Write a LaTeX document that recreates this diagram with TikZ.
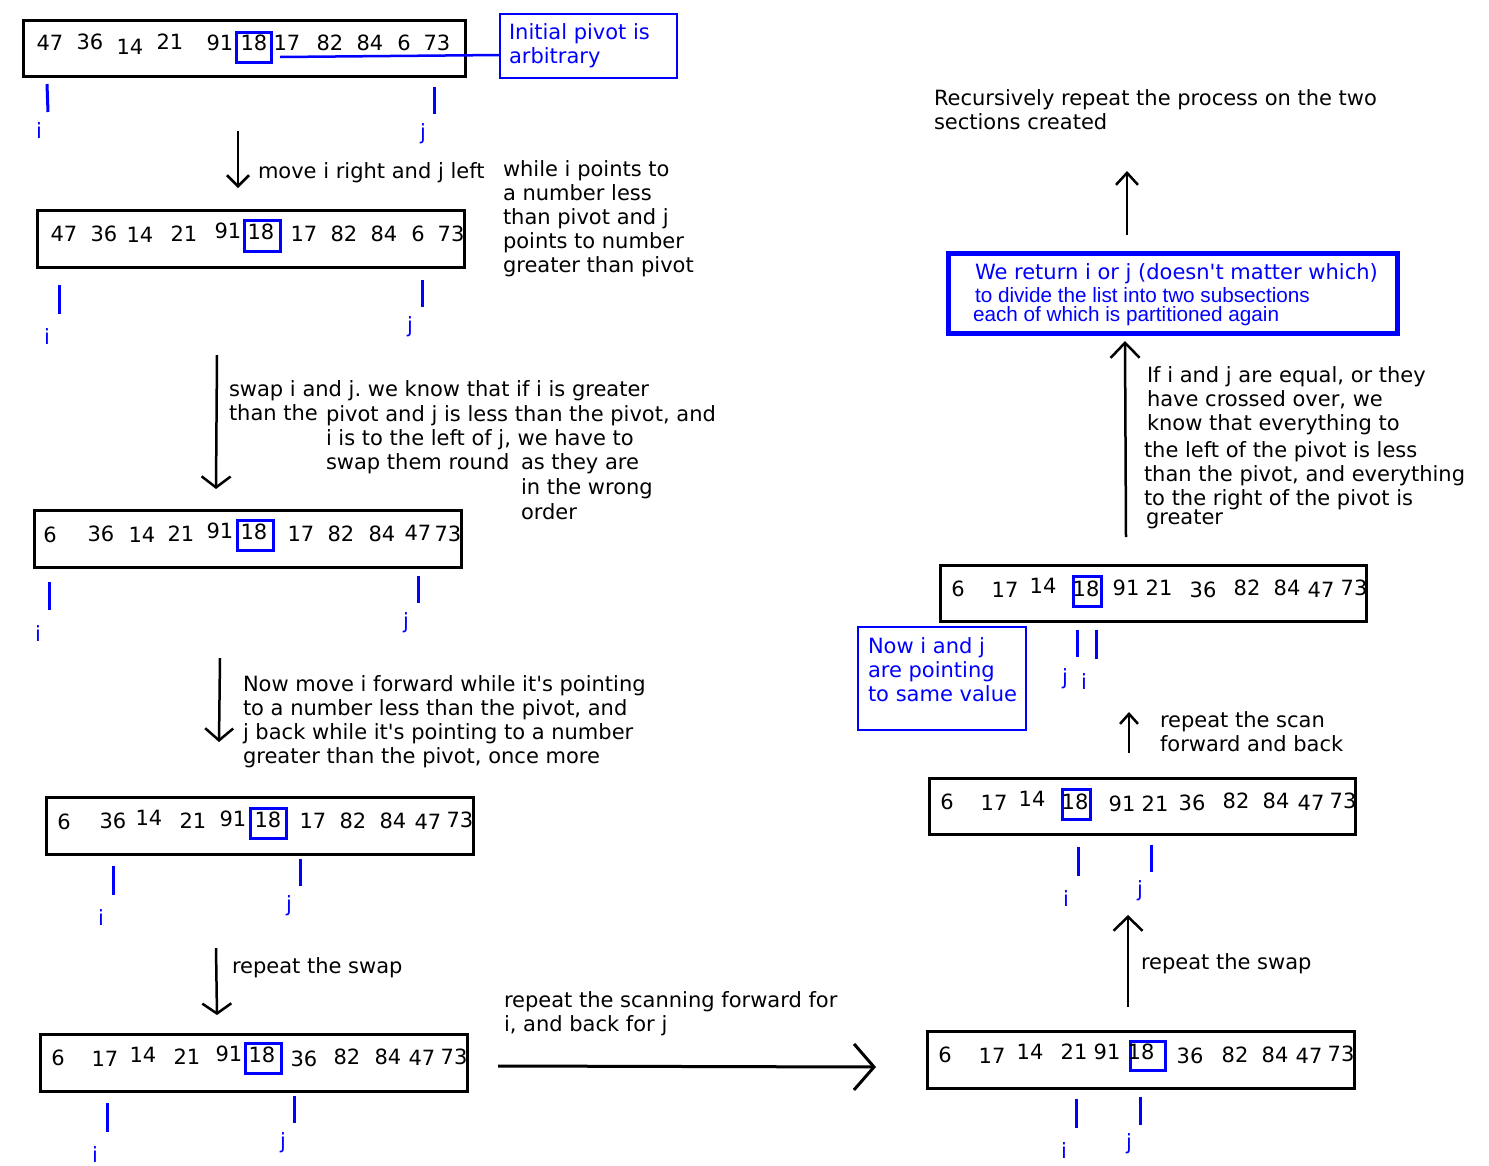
\documentclass[tikz,border=0pt]{standalone}
\usepackage{fontspec}
\setmainfont{DejaVu Sans}[Ligatures=TeXOff]
\newfontfamily\arialfont{Liberation Sans}
\usetikzlibrary{arrows.meta}
\definecolor{pblue}{RGB}{0,0,255}
\frenchspacing
\begin{document}
\begin{tikzpicture}[x=1pt,y=-1pt,
  every node/.style={inner sep=0pt, outer sep=0pt},
  txt/.style={anchor=base west, font=\fontsize{21}{24}\selectfont},
  btxt/.style={txt, text=pblue},
  num/.style={anchor=center, font=\fontsize{21}{24}\selectfont},
  lab/.style={anchor=base, font=\fontsize{21}{24}\selectfont, text=pblue},
  rowbox/.style={draw, line width=3pt, minimum width=427pt, minimum height=57pt},
  pivbox/.style={draw=pblue, line width=3pt, minimum width=36pt, minimum height=30pt},
  note/.style={draw=pblue, line width=2.5pt},
  ptr/.style={draw=pblue, line width=3pt},
  bline/.style={draw=pblue, line width=2.5pt},
  arr/.style={draw, line width=2.5pt, -{Straight Barb[length=#1]}}
]
\useasboundingbox (0,0) rectangle (1489,1165);

% ---------- Row 1 ----------
\node[rowbox, minimum width=442pt, minimum height=56pt] (r1) at (244,48) {};
\node[pivbox, minimum width=35pt] (p1) at (253.5,47) {};
\foreach \t/\x/\y [count=\k] in {47/50/43,36/90/42,14/130/47,21/170/42,91/220/43,18/254/43,17/287/43,82/330/43,84/370/43,6/404/43,73/437/43}
  \node[num] (na\k) at (\x,\y) {\t};
\node[note, minimum width=177pt, minimum height=64pt] (note1) at (588.5,46) {};
\node[btxt] (note1a) at (509,39) {Initial pivot is};
\node[btxt] (note1b) at (509,63) {arbitrary};
\draw[bline] ([xshift=9pt,yshift=-10pt]p1.east) -- ([yshift=-9pt]note1.west);
\draw[ptr] (47,84) -- (48,112);
\draw[ptr] (434,87) -- (434,114);
\node[lab] (i1) at (39,138) {i};
\node[lab] (j1) at (423,139) {j};

% arrow 1
\coordinate (a1s) at (238,131);
\coordinate (a1e) at (238,188);
\draw[arr={11pt,width=22pt}] (a1s) -- (a1e);
\node[txt] (t1) at (258,178) {move i right and j left};
\node[txt] (w1) at (503,176) {while i points to};
\node[txt] (w2) at (503,200) {a number less};
\node[txt] (w3) at (503,224) {than pivot and j};
\node[txt] (w4) at (503,248) {points to number};
\node[txt] (w5) at (503,272) {greater than pivot};

% ---------- Row 2 ----------
\node[rowbox] (r2) at (250.5,238.5) {};
\node[pivbox, minimum height=31pt] (p2) at (262,235.5) {};
\foreach \t/\x/\y [count=\k] in {47/64/234,36/104/234,14/140/235,21/184/234,91/228/231,18/261/232,17/304/234,82/344/234,84/384/234,6/418/234,73/451/234}
  \node[num] (nb\k) at (\x,\y) {\t};
\draw[ptr] (59,285) -- (59,314);
\draw[ptr] (422,280) -- (422,307);
\node[lab] (i2) at (47,344) {i};
\node[lab] (j2) at (410,332) {j};

% arrow 2
\coordinate (a2s) at (217,355);
\coordinate (a2e) at (216,489);
\draw[arr={11pt,width=29pt}] (a2s) -- (a2e);
\node[txt] (s1) at (229,396) {swap i and j. we know that if i is greater};
\node[txt] (s2) at (229,420) {than the};
\node[txt] (s3) at (326,421) {pivot and j is less than the pivot, and};
\node[txt] (s4) at (326,445) {i is to the left of j, we have to};
\node[txt] (s5) at (326,469) {swap them round};
\node[txt] (s6) at (521,469) {as they are};
\node[txt] (s7) at (521,494) {in the wrong};
\node[txt] (s8) at (521,519) {order};

% ---------- Row 3 ----------
\node[rowbox] (r3) at (247.5,538.5) {};
\node[pivbox] (p3) at (255,535) {};
\foreach \t/\x/\y [count=\k] in {6/50/535,36/101/534,14/142/535,21/181/534,91/220/531,18/254/532,17/301/534,82/341/534,84/382/534,47/418/533,73/448/534}
  \node[num] (nc\k) at (\x,\y) {\t};
\draw[ptr] (49,582) -- (49,610);
\draw[ptr] (418,576) -- (418,603);
\node[lab] (i3) at (38,641) {i};
\node[lab] (j3) at (406,628) {j};

% arrow 3
\coordinate (a3s) at (220,658);
\coordinate (a3e) at (219,742);
\draw[arr={12pt,width=28pt}] (a3s) -- (a3e);
\node[txt] (m1) at (243,691) {Now move i forward while it's pointing};
\node[txt] (m2) at (243,715) {to a number less than the pivot, and};
\node[txt] (m3) at (243,739) {j back while it's pointing to a number};
\node[txt] (m4) at (243,763) {greater than the pivot, once more};

% ---------- Row 4 ----------
\node[rowbox] (r4) at (259.5,825.5) {};
\node[pivbox] (p4) at (268,823) {};
\foreach \t/\x/\y [count=\k] in {6/64/822,36/113/821,14/149/818,21/193/821,91/233/819,18/268/820,17/313/821,82/353/821,84/393/821,47/428/822,73/460/820}
  \node[num] (nd\k) at (\x,\y) {\t};
\draw[ptr] (113,866) -- (113,895);
\draw[ptr] (300,859) -- (300,886);
\node[lab] (i4) at (101,925) {i};
\node[lab] (j4) at (289,911) {j};

% arrow 4
\coordinate (a4s) at (216,948);
\coordinate (a4e) at (217,1015);
\draw[arr={10pt,width=29pt}] (a4s) -- (a4e);
\node[txt] (rs1) at (232,973) {repeat the swap};

% ---------- Row 5 ----------
\node[rowbox] (r5) at (253.5,1062.5) {};
\node[pivbox] (p5) at (263,1058) {};
\foreach \t/\x/\y [count=\k] in {6/58/1058,17/105/1059,14/143/1055,21/187/1057,91/229/1054,18/262/1055,36/304/1059,82/347/1057,84/388/1057,47/422/1058,73/454/1057}
  \node[num] (ne\k) at (\x,\y) {\t};
\draw[ptr] (107,1103) -- (107,1132);
\draw[ptr] (294,1096) -- (294,1123);
\node[lab] (i5) at (95,1162) {i};
\node[lab] (j5) at (283,1148) {j};

% big arrow
\coordinate (a5s) at (498,1066);
\coordinate (a5e) at (876,1067);
\draw[arr={20pt,width=46pt}, line width=3pt] (a5s) -- (a5e);
\node[txt] (sc1) at (504,1007) {repeat the scanning forward for};
\node[txt] (sc2) at (504,1031) {i, and back for j};

% ---------- Row 6 ----------
\node[rowbox] (r6) at (1140.5,1059.5) {};
\node[pivbox, minimum width=35pt, minimum height=29pt] (p6) at (1147.5,1055.5) {};
\foreach \t/\x/\y [count=\k] in {6/945/1055,17/992/1056,14/1030/1052,21/1074/1052,91/1107/1052,18/1141/1052,36/1190/1056,82/1235/1055,84/1275/1055,47/1309/1056,73/1341/1054}
  \node[num] (nf\k) at (\x,\y) {\t};
\draw[ptr] (1076,1099) -- (1076,1128);
\draw[ptr] (1140,1097) -- (1140,1125);
\node[lab] (i6) at (1064,1158) {i};
\node[lab] (j6) at (1129,1149) {j};

% arrow 5
\coordinate (a6s) at (1128,1007);
\coordinate (a6e) at (1128,915);
\draw[arr={14pt,width=29pt}] (a6s) -- (a6e);
\node[txt] (rs2) at (1141,969) {repeat the swap};

% ---------- Row 7 ----------
\node[rowbox, minimum width=426pt, minimum height=56pt] (r7) at (1142,806) {};
\node[pivbox, minimum width=28pt] (p7) at (1076,804) {};
\foreach \t/\x/\y [count=\k] in {6/947/802,17/994/803,14/1032/799,18/1075/802,91/1122/804,21/1155/804,36/1192/803,82/1236/801,84/1276/801,47/1311/803,73/1343/801}
  \node[num] (ng\k) at (\x,\y) {\t};
\draw[ptr] (1078,847) -- (1078,876);
\draw[ptr] (1151,845) -- (1151,872);
\node[lab] (i7) at (1066,906) {i};
\node[lab] (j7) at (1140,896) {j};

% arrow 6
\coordinate (a7s) at (1129,753);
\coordinate (a7e) at (1129,712);
\draw[arr={10pt,width=18pt}] (a7s) -- (a7e);
\node[txt] (rsc1) at (1160,727) {repeat the scan};
\node[txt] (rsc2) at (1160,751) {forward and back};

% ---------- Row 8 ----------
\node[rowbox, minimum width=426pt, minimum height=56pt] (r8) at (1153,593) {};
\node[pivbox, minimum width=28pt] (p8) at (1087,591) {};
\foreach \t/\x/\y [count=\k] in {6/958/589,17/1005/590,14/1043/586,18/1086/589,91/1126/588,21/1159/588,36/1203/590,82/1247/588,84/1287/588,47/1321/590,73/1354/588}
  \node[num] (nh\k) at (\x,\y) {\t};
\draw[ptr] (1077,630) -- (1077,657);
\draw[ptr] (1096,630) -- (1096,659);
\node[lab] (j8) at (1065,684) {j};
\node[lab] (i8) at (1084,689) {i};
\node[note, minimum width=168pt, minimum height=103pt] (note2) at (942,678.5) {};
\node[btxt] (n2a) at (868,653) {Now i and j};
\node[btxt] (n2b) at (868,677) {are pointing};
\node[btxt] (n2c) at (868,701) {to same value};

% arrow 7
\coordinate (a8s) at (1126,537);
\coordinate (a8e) at (1125,341);
\draw[arr={15pt,width=29pt}] (a8s) -- (a8e);
\node[txt] (e1) at (1147,382) {If i and j are equal, or they};
\node[txt] (e2) at (1147,406) {have crossed over, we};
\node[txt] (e3) at (1147,430) {know that everything to};
\node[txt] (e4) at (1144,457) {the left of the pivot is less};
\node[txt] (e5) at (1144,481) {than the pivot, and everything};
\node[txt] (e6) at (1144,505) {to the right of the pivot is};
\node[txt] (e7) at (1146,524) {greater};

% return box
\node[draw=pblue, line width=5pt, minimum width=449pt, minimum height=80pt] (ret) at (1172.5,293) {};
\node[btxt] (ret1) at (975,279) {We return i or j (doesn't matter which)};
\node[anchor=base west, text=pblue, font=\arialfont\fontsize{20.7}{23}\selectfont] (ret2) at (975,302) {to divide the list into two subsections};
\node[anchor=base west, text=pblue, font=\arialfont\fontsize{20.7}{23}\selectfont] (ret3) at (973,321) {each of which is partitioned again};

% arrow 8
\coordinate (a9s) at (1127,235);
\coordinate (a9e) at (1127,171);
\draw[arr={12pt,width=22pt}] (a9s) -- (a9e);
\node[txt] (rc1) at (934,105) {Recursively repeat the process on the two};
\node[txt] (rc2) at (934,129) {sections created};
\end{tikzpicture}
\end{document}
